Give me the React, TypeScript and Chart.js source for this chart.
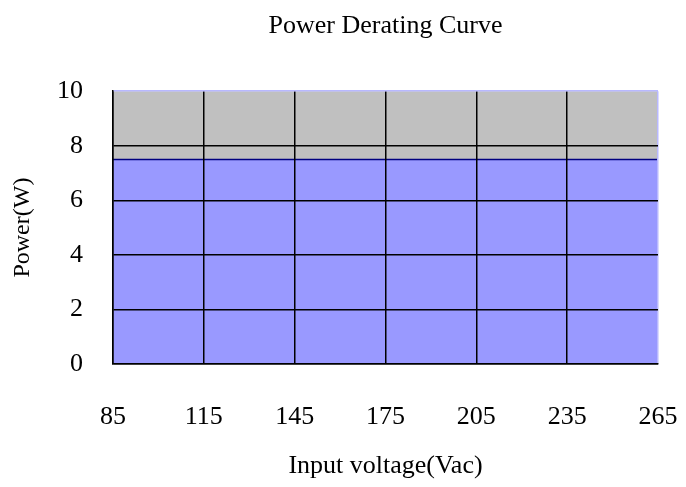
import React, { useEffect, useRef } from "react";
import { Chart, registerables } from "chart.js";

Chart.register(...registerables);

const voltages = [85, 265];
const power = [7.5, 7.5];
const xTicks = [85, 115, 145, 175, 205, 235, 265];
const yTicks = [0, 2, 4, 6, 8, 10];

const FONT = "'Liberation Serif', 'Times New Roman', serif";

const plotBg = {
  id: "plotBg",
  beforeDraw(chart: any) {
    const { ctx, chartArea } = chart;
    ctx.save();
    ctx.fillStyle = "#C0C0C0";
    ctx.fillRect(chartArea.left, chartArea.top, chartArea.right - chartArea.left, chartArea.bottom - chartArea.top);
    ctx.restore();
  },
};

export default function App() {
  const ref = useRef<HTMLCanvasElement>(null);
  useEffect(() => {
    if (!ref.current) return;
    const chart = new Chart(ref.current, {
      type: "line",
      data: {
        datasets: [
          {
            data: voltages.map((v, i) => ({ x: v, y: power[i] })),
            borderColor: "#000080",
            borderWidth: 1.5,
            backgroundColor: "#9999FF",
            fill: "origin",
            pointRadius: 0,
            tension: 0,
          },
        ],
      },
      options: {
        animation: false,
        responsive: false,
        maintainAspectRatio: false,
        layout: { padding: { left: 0, right: 0, top: 0, bottom: 0 } },
        plugins: {
          legend: { display: false },
          tooltip: { enabled: false },
          title: {
            display: true,
            fullSize: false,
            text: "Power Derating Curve",
            color: "#000",
            font: { family: FONT, size: 26, weight: "normal" },
            padding: { top: 11, bottom: 49 },
          },
        },
        scales: {
          x: {
            type: "linear",
            min: 85,
            max: 265,
            afterBuildTicks: (s: any) => {
              s.ticks = xTicks.map((v) => ({ value: v }));
            },
            afterFit: (s: any) => {
              s.height = 123;
              s.paddingLeft = 0;
              s.paddingRight = 28;
            },
            border: { display: true, color: "#000", width: 1.5, z: 2 },
            grid: {
              z: 1,
              color: (c: any) => (c.tick && c.tick.value === 265 ? "#b8b8ff" : "#000"),
              lineWidth: 1.5,
              drawTicks: false,
            },
            ticks: {
              color: "#000",
              font: { family: FONT, size: 26 },
              padding: 38,
              maxRotation: 0,
              autoSkip: false,
            },
            title: {
              display: true,
              text: "Input voltage(Vac)",
              color: "#000",
              font: { family: FONT, size: 26 },
              padding: { top: 0, bottom: 5 },
            },
          },
          y: {
            min: 0,
            max: 10,
            afterBuildTicks: (s: any) => {
              s.ticks = yTicks.map((v) => ({ value: v }));
            },
            afterFit: (s: any) => {
              s.width = 113;
              s.paddingTop = 0;
              s.paddingBottom = 0;
            },
            border: { display: true, color: "#000", width: 1.5, z: 2 },
            grid: {
              z: 1,
              color: (c: any) => (c.tick && c.tick.value === 10 ? "#b8b8ff" : "#000"),
              lineWidth: 1.5,
              drawTicks: false,
            },
            ticks: {
              color: "#000",
              font: { family: FONT, size: 26 },
              padding: 30,
            },
            title: {
              display: true,
              text: "Power(W)",
              color: "#000",
              font: { family: FONT, size: 24 },
              padding: { top: 8, bottom: 0 },
            },
          },
        },
      },
      plugins: [plotBg],
    } as any);
    return () => chart.destroy();
  }, []);
  return (
    <div style={{ position: "fixed", left: 0, top: 0, width: 686, height: 487, background: "#fff" }}>
      <canvas ref={ref} width={686} height={487} style={{ width: 686, height: 487 }} />
    </div>
  );
}
